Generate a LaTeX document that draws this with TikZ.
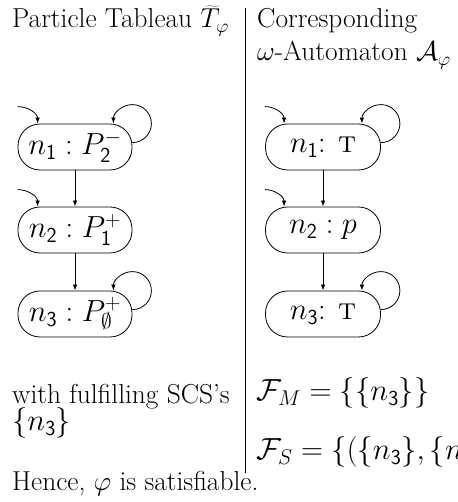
\RequirePackage{fix-cm}
\documentclass[tikz,border=0pt]{standalone}
\usetikzlibrary{arrows.meta}
\newcommand{\dg}[1]{\mathsf{#1}}
\begin{document}
\begin{tikzpicture}[x=1pt,y=1pt,
  font=\fontsize{27.4}{33}\selectfont,
  bigmath/.style={font=\fontsize{30.5}{36}\selectfont},
  state/.style={draw, bigmath, rounded corners=22pt, minimum width=114pt, minimum height=46pt, inner sep=0pt, line width=0.8pt},
  txt/.style={anchor=base west, inner sep=0pt},
  edge/.style={-{Latex[length=6pt,width=4.5pt]}, line width=0.8pt}]
\useasboundingbox (0,0) rectangle (457,502);
\clip (0,0) rectangle (457,502);
% titles
\node[txt] (tl) at (12,474) {Particle Tableau $\widetilde{T}_\varphi$};
\node[txt] (tr1) at (257,474) {Corresponding};
\node[txt] (tr2) at (257,441) {$\omega$-Automaton $\mathcal{A}_\varphi$};
% divider
\coordinate (dt) at (245,494);
\coordinate (db) at (245,29);
\draw[line width=0.8pt] (dt) -- (db);
% left tableau
\node[state] (l1) at (75,355) {$n_{\dg1} : P_{\dg2}^{-}$};
\node[state] (l2) at (75,272) {$n_{\dg2} : P_{\dg1}^{+}$};
\node[state] (l3) at (75,188) {$n_{\dg3} : P_{\emptyset}^{+}$};
% right automaton
\node[state, minimum width=115pt] (r1) at (323,355) {$n_{\dg1}$: \textsc{t}};
\node[state, minimum width=115pt] (r2) at (323,272) {$n_{\dg2} : p$};
\node[state, minimum width=115pt] (r3) at (323,188) {$n_{\dg3}$: \textsc{t}};
% edges
\draw[edge] (l1) -- (l2);
\draw[edge] (l2) -- (l3);
\draw[edge] (r1) -- (r2);
\draw[edge] (r2) -- (r3);
% initial arrows
\draw[edge] ([yshift=17pt]l1.north west) to[out=0,in=90] ([xshift=20pt]l1.north west);
\draw[edge] ([yshift=17pt]l2.north west) to[out=0,in=90] ([xshift=20pt]l2.north west);
\draw[edge] ([yshift=17pt]r1.north west) to[out=0,in=90] ([xshift=19pt]r1.north west);
\draw[edge] ([yshift=17pt]r2.north west) to[out=0,in=90] ([xshift=19pt]r2.north west);
% self loops
\draw[edge] ([yshift=-19pt]l1.north east) arc[start angle=-90, end angle=180, radius=19pt];
\draw[edge] ([yshift=-19pt]l3.north east) arc[start angle=-90, end angle=180, radius=19pt];
\draw[edge] ([yshift=-19pt]r1.north east) arc[start angle=-90, end angle=180, radius=19pt];
\draw[edge] ([yshift=-19pt]r3.north east) arc[start angle=-90, end angle=180, radius=19pt];
% bottom texts
\node[txt] (w1) at (12,98) {with fulfilling SCS's};
\node[txt, bigmath] (w2) at (12,71) {$\{n_{\dg3}\}$};
\node[txt, bigmath] (fm) at (256,101) {$\mathcal{F}_M = \{\{n_{\dg3}\}\}$};
\node[txt, bigmath] (fs) at (256,42) {$\mathcal{F}_S = \{(\{n_{\dg3}\},\{n_{\dg3}\})\}$};
\node[txt] (hc) at (12,11) {Hence, $\varphi$ is satisfiable.};
\end{tikzpicture}
\end{document}
